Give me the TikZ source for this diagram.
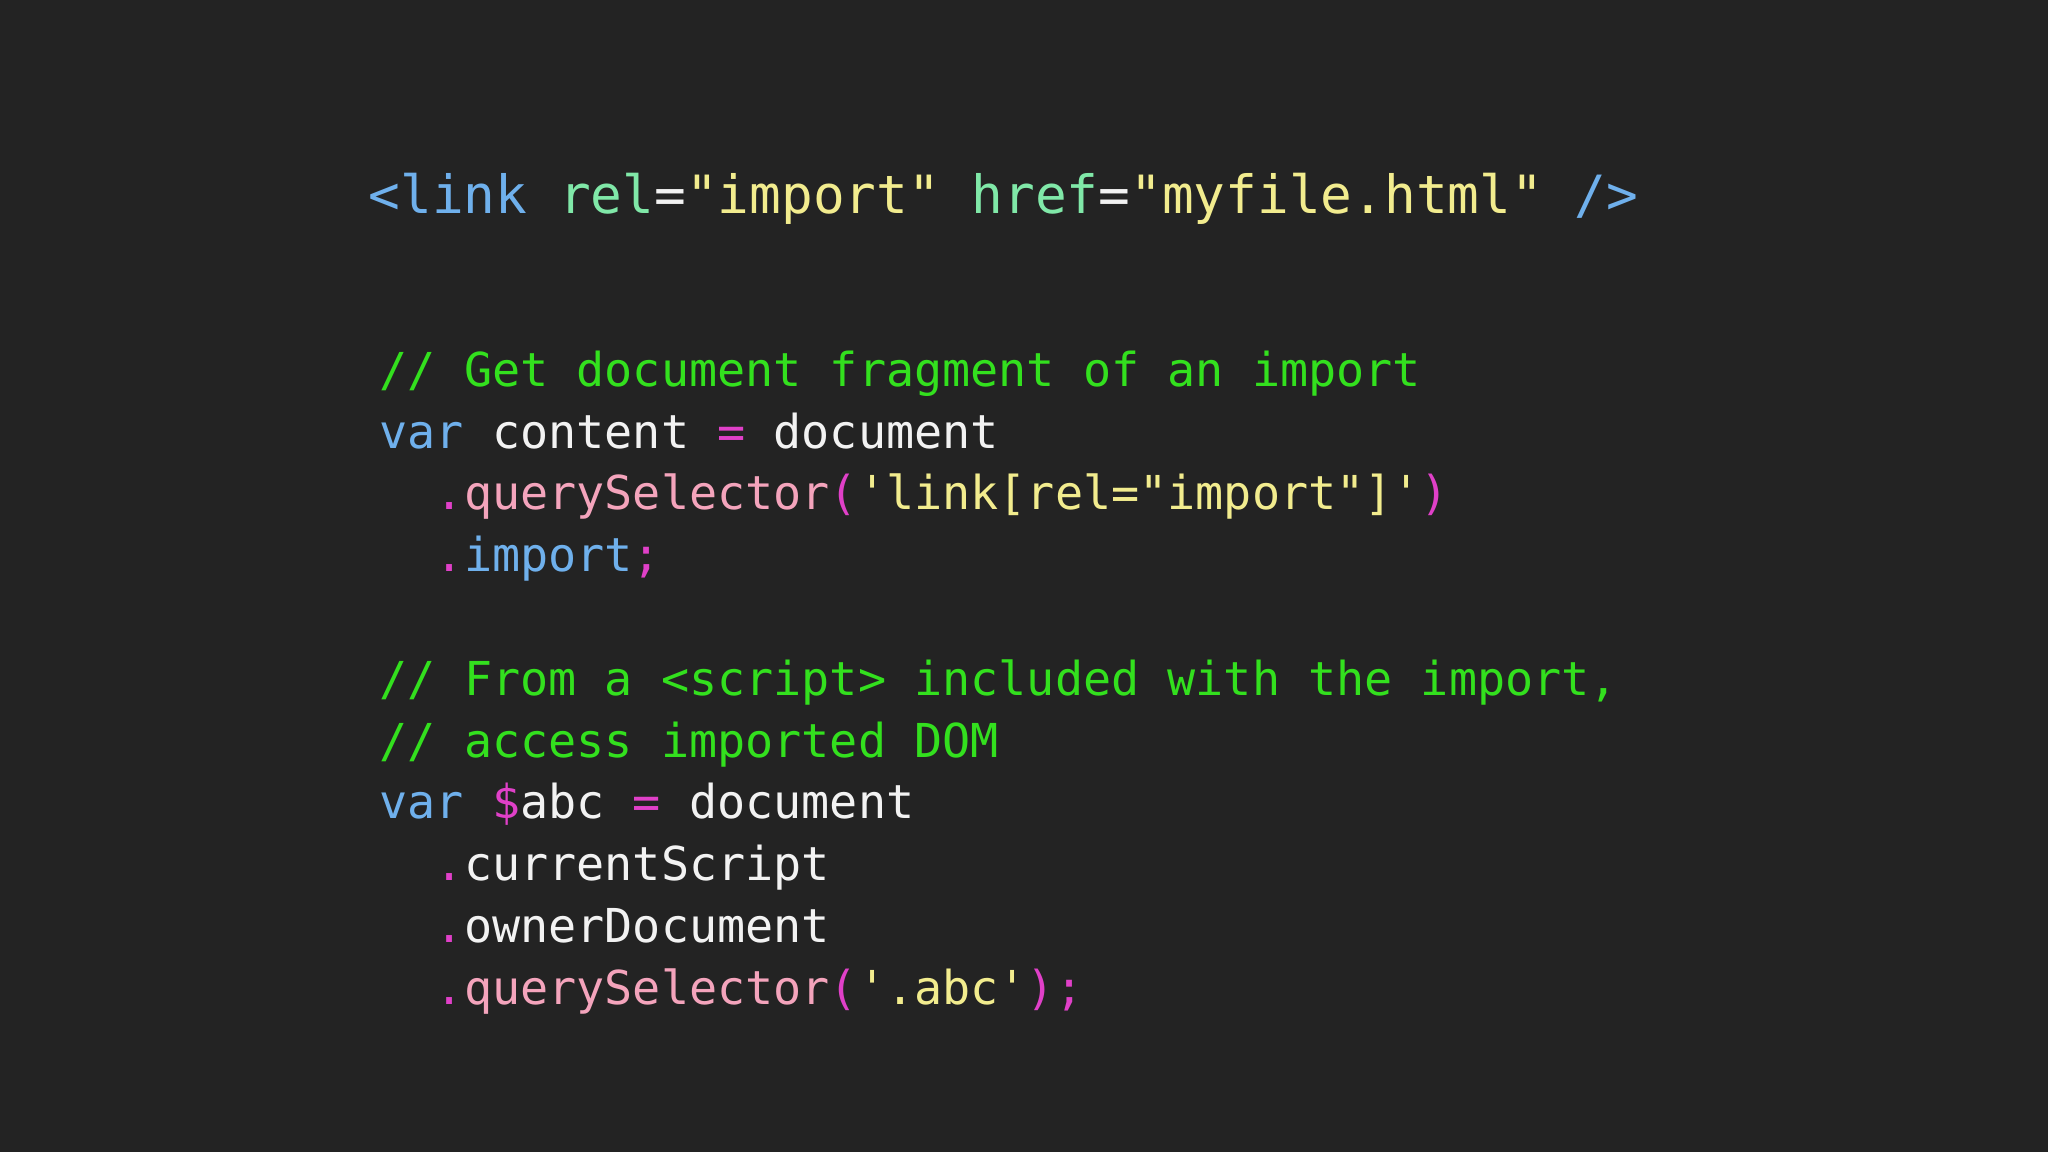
\documentclass[tikz,border=0pt]{standalone}
\usepackage{fontspec}
\newfontfamily\codefont{DejaVu Sans Mono}
\definecolor{bg}{HTML}{232323}
\definecolor{kb}{HTML}{6FB0EC}
\definecolor{ka}{HTML}{80E8A8}
\definecolor{ks}{HTML}{F2EC8E}
\definecolor{kp}{HTML}{F4A4BC}
\definecolor{km}{HTML}{E040C8}
\definecolor{kc}{HTML}{33E01E}
\definecolor{kw}{HTML}{F2F2F2}
\newcommand{\B}[1]{\textcolor{kb}{#1}}
\newcommand{\A}[1]{\textcolor{ka}{#1}}
\newcommand{\Sx}[1]{\textcolor{ks}{#1}}
\newcommand{\Px}[1]{\textcolor{kp}{#1}}
\newcommand{\M}[1]{\textcolor{km}{#1}}
\newcommand{\Cx}[1]{\textcolor{kc}{#1}}
\newcommand{\W}[1]{\textcolor{kw}{#1}}
\begin{document}
\begin{tikzpicture}[x=1cm,y=1cm,
  big/.style={anchor=base west,inner sep=0pt,font=\codefont\fontsize{15pt}{18pt}\selectfont},
  code/.style={anchor=base west,inner sep=0pt,font=\codefont\fontsize{13.3pt}{16pt}\selectfont}]
\fill[bg] (0,0) rectangle (20.48,11.52);
\useasboundingbox (0,0) rectangle (20.48,11.52);
\def\lx{3.79}
\def\ix{4.35}
\node[big] (l0) at (3.68,9.38) {\B{<link} \A{rel}\W{=}\Sx{"import"} \A{href}\W{=}\Sx{"myfile.html"} \B{/>}};
\node[code] (l1) at (\lx,{11.52-3.87}) {\Cx{// Get document fragment of an import}};
\node[code] (l2) at (\lx,{11.52-4.485}) {\B{var} \W{content} \M{=} \W{document}};
\node[code] (l3) at (\lx,{11.52-5.10}) {\hspace*{0pt}\phantom{xx}\M{.}\Px{querySelector}\M{(}\Sx{'link[rel="import"]'}\M{)}};
\node[code] (l4) at (\lx,{11.52-5.72}) {\phantom{xx}\M{.}\B{import}\M{;}};
\node[code] (l5) at (\lx,{11.52-6.955}) {\Cx{// From a <script> included with the import,}};
\node[code] (l6) at (\lx,{11.52-7.575}) {\Cx{// access imported DOM}};
\node[code] (l7) at (\lx,{11.52-8.19}) {\B{var} \M{\$}\W{abc} \M{=} \W{document}};
\node[code] (l8) at (\lx,{11.52-8.81}) {\phantom{xx}\M{.}\W{currentScript}};
\node[code] (l9) at (\lx,{11.52-9.43}) {\phantom{xx}\M{.}\W{ownerDocument}};
\node[code] (l10) at (\lx,{11.52-10.045}) {\phantom{xx}\M{.}\Px{querySelector}\M{(}\Sx{'.abc'}\M{);}};
\end{tikzpicture}
\end{document}
